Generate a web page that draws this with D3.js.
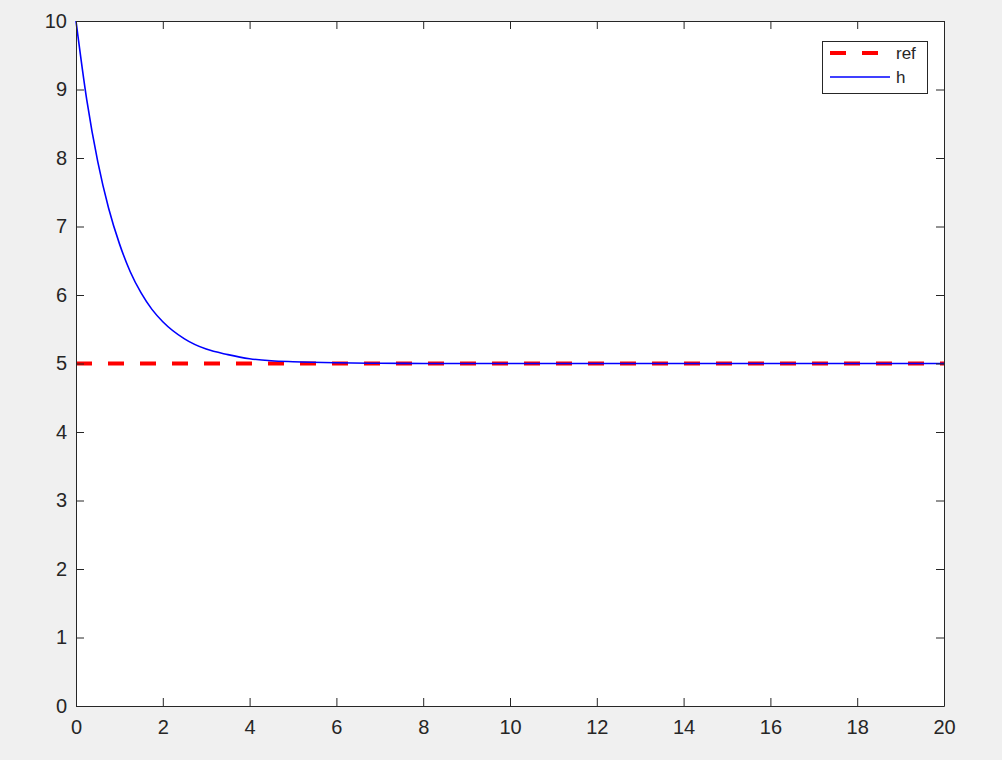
<!DOCTYPE html>
<html>
<head>
<meta charset="utf-8">
<script src="https://cdn.jsdelivr.net/npm/d3@7"></script>
<style>
  html, body { margin: 0; padding: 0; background: #f0f0f0; }
  svg { display: block; }
  text { font-family: "Liberation Sans", Arial, Helvetica, sans-serif; fill: #262626; }
</style>
</head>
<body>
<svg id="chart" width="1002" height="760"></svg>
<script>
// ---- data ----
const tValues = [0, 0.25, 0.5, 0.75, 1.0, 1.25, 1.5, 1.75, 2.0, 2.5, 3.0, 3.5, 4.0, 4.5, 5.0, 6.0, 7.0, 8.0, 10.0, 14.0, 20.0];
const hValues = [10, 8.84, 7.95, 7.27, 6.75, 6.34, 6.03, 5.79, 5.61, 5.36, 5.21, 5.13, 5.07, 5.04, 5.026, 5.01, 5.003, 5.001, 5.0, 5.0, 5.0];
const refT = [0, 20];
const refValues = [5, 5];
const xTicks = [0, 2, 4, 6, 8, 10, 12, 14, 16, 18, 20];
const yTicks = [0, 1, 2, 3, 4, 5, 6, 7, 8, 9, 10];
const seriesNames = ["ref", "h"];
const seriesColors = ["#ff0000", "#0000ff"];

// ---- layout ----
const svg = d3.select("#chart");
const L = 76, R = 944, T = 21, B = 706;
const x = d3.scaleLinear().domain([0, 20]).range([L, R]);
const y = d3.scaleLinear().domain([0, 10]).range([B, T]);

svg.append("rect").attr("x", 0).attr("y", 0).attr("width", 1002).attr("height", 760).attr("fill", "#f0f0f0");
svg.append("rect").attr("x", L).attr("y", T).attr("width", R - L).attr("height", B - T).attr("fill", "#ffffff");

// ---- lines ----
const refData = refT.map((t, i) => ({ t, v: refValues[i] }));
const hData = tValues.map((t, i) => ({ t, v: hValues[i] }));
const line = d3.line().x(d => x(d.t)).y(d => y(d.v));
const curve = d3.line().x(d => x(d.t)).y(d => y(d.v)).curve(d3.curveMonotoneX);

svg.append("path").datum(refData).attr("d", line)
  .attr("fill", "none").attr("stroke", seriesColors[0]).attr("stroke-width", 4)
  .attr("stroke-dasharray", "16,16");
svg.append("path").datum(hData).attr("d", curve)
  .attr("fill", "none").attr("stroke", seriesColors[1]).attr("stroke-width", 1.6);

// ---- axes ----
const axisColor = "#262626";
function style(g, showText) {
  g.select(".domain").attr("stroke", axisColor).attr("stroke-width", 1);
  g.selectAll(".tick line").attr("stroke", axisColor).attr("stroke-width", 1);
  g.selectAll(".tick text").attr("fill", axisColor).style("font-size", "20px")
    .style("font-family", '"Liberation Sans", Arial, Helvetica, sans-serif');
  if (!showText) g.selectAll(".tick text").remove();
}
svg.append("g").attr("transform", `translate(0,${B})`)
  .call(d3.axisBottom(x).tickValues(xTicks).tickFormat(d3.format("d")).tickSize(-8).tickSizeOuter(0).tickPadding(14))
  .call(g => style(g, true));
svg.append("g").attr("transform", `translate(0,${T})`)
  .call(d3.axisTop(x).tickValues(xTicks).tickSize(-8).tickSizeOuter(0))
  .call(g => style(g, false));
svg.append("g").attr("transform", `translate(${L},0)`)
  .call(d3.axisLeft(y).tickValues(yTicks).tickFormat(d3.format("d")).tickSize(-8).tickSizeOuter(0).tickPadding(9))
  .call(g => style(g, true));
svg.append("g").attr("transform", `translate(${R},0)`)
  .call(d3.axisRight(y).tickValues(yTicks).tickSize(-8).tickSizeOuter(0))
  .call(g => style(g, false));

// ---- legend ----
const lg = svg.append("g");
lg.append("rect").attr("x", 822.5).attr("y", 41.5).attr("width", 105).attr("height", 52)
  .attr("fill", "#ffffff").attr("stroke", axisColor).attr("stroke-width", 1);
const rows = [53, 77];
seriesNames.forEach((name, i) => {
  lg.append("line").attr("x1", 830).attr("x2", 890).attr("y1", rows[i]).attr("y2", rows[i])
    .attr("stroke", seriesColors[i]).attr("stroke-width", i === 0 ? 4 : 1.6)
    .attr("stroke-dasharray", i === 0 ? "16,16" : null);
  lg.append("text").attr("x", 896).attr("y", rows[i]).attr("dy", "0.36em")
    .style("font-size", "17px").text(name);
});
</script>
</body>
</html>
